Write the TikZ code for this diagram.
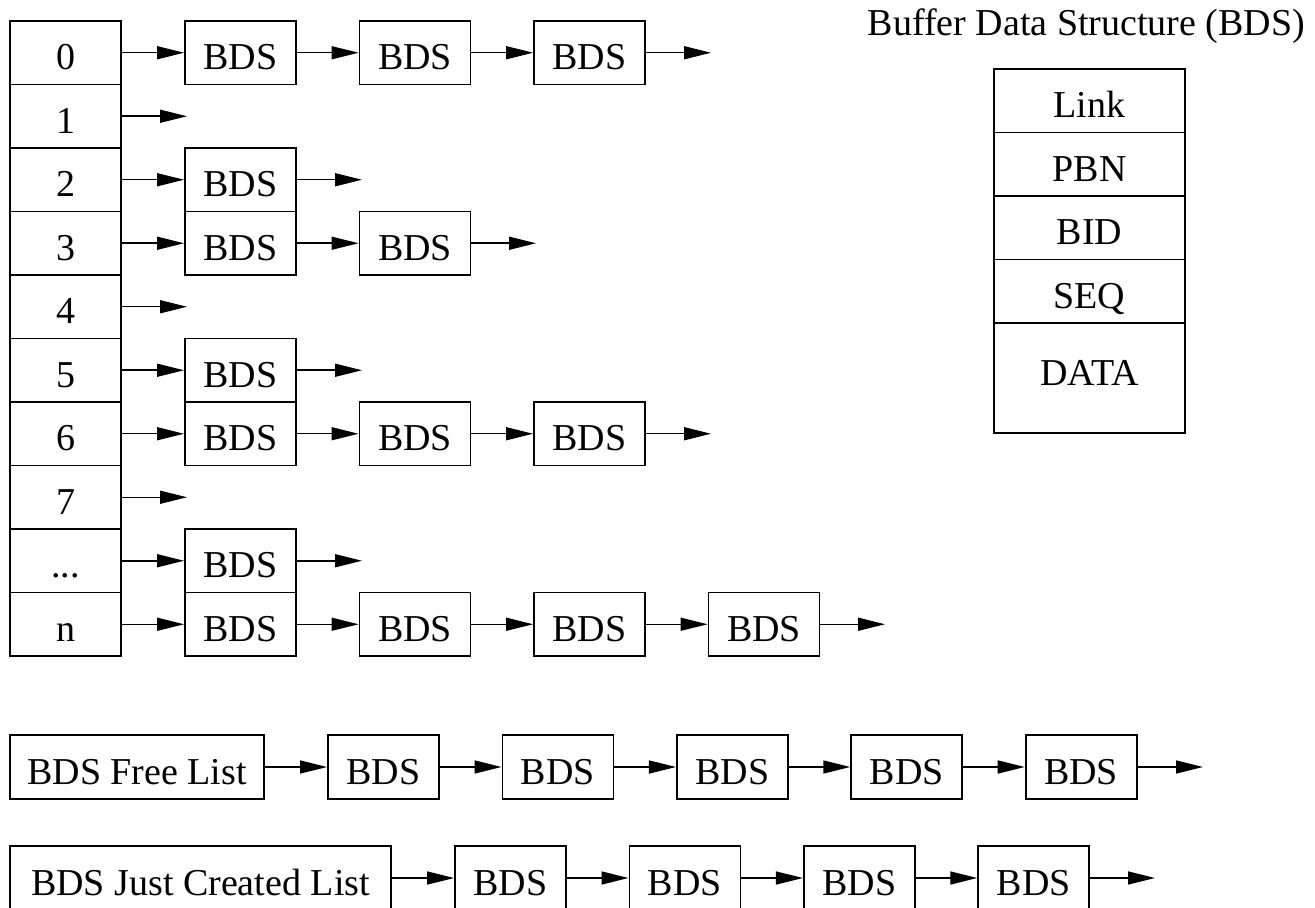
\documentclass[tikz,border=0pt]{standalone}
\usepackage{fontspec}
\setmainfont{Liberation Serif}
\usetikzlibrary{arrows.meta}

\begin{document}
\begin{tikzpicture}[x=0.5pt, y=-0.5pt, font=\fontsize{19}{23}\selectfont]

\tikzstyle{cell}=[rectangle, draw, line width=0.9pt, inner sep=0pt, minimum width=55.5pt, minimum height=31.75pt, text height=17pt, text depth=0pt]
\tikzstyle{bds}=[cell]
\tikzstyle{field}=[cell, minimum width=95.5pt]
\tikzstyle{arrow}=[-{Triangle[length=13.5pt,width=6.5pt]}, line width=0.75pt]

\useasboundingbox (0,0) rectangle (1315,908);

% hash table
\foreach \i in {0,...,7}
  \node (c\i) [cell] at (65.5, 52.75+63.5*\i) {\i};
\node (c8) [cell] at (65.5, 560.75) {...};
\node (c9) [cell] at (65.5, 624.25) {n};

% chains
\node (b01) [bds] at (240.5, 52.75) {BDS};
\node (b02) [bds] at (415, 52.75)   {BDS};
\node (b03) [bds] at (589.5, 52.75) {BDS};
\coordinate (e0) at (711, 52.75);

\coordinate (e1) at (187, 116.25);

\node (b21) [bds] at (240.5, 179.75) {BDS};
\coordinate (e2) at (362, 179.75);

\node (b31) [bds] at (240.5, 243.25) {BDS};
\node (b32) [bds] at (415, 243.25)   {BDS};
\coordinate (e3) at (536, 243.25);

\coordinate (e4) at (187, 306.75);

\node (b51) [bds] at (240.5, 370.25) {BDS};
\coordinate (e5) at (362, 370.25);

\node (b61) [bds] at (240.5, 433.75) {BDS};
\node (b62) [bds] at (415, 433.75)   {BDS};
\node (b63) [bds] at (589.5, 433.75) {BDS};
\coordinate (e6) at (711, 433.75);

\coordinate (e7) at (187, 497.25);

\node (b81) [bds] at (240.5, 560.75) {BDS};
\coordinate (e8) at (362, 560.75);

\node (b91) [bds] at (240.5, 624.25) {BDS};
\node (b92) [bds] at (415, 624.25)   {BDS};
\node (b93) [bds] at (589.5, 624.25) {BDS};
\node (b94) [bds] at (764, 624.25)   {BDS};
\coordinate (e9) at (885, 624.25);

\foreach \a/\b in {c0/b01, b01/b02, b02/b03, b03/e0,
                   c1/e1,
                   c2/b21, b21/e2,
                   c3/b31, b31/b32, b32/e3,
                   c4/e4,
                   c5/b51, b51/e5,
                   c6/b61, b61/b62, b62/b63, b63/e6,
                   c7/e7,
                   c8/b81, b81/e8,
                   c9/b91, b91/b92, b92/b93, b93/b94, b94/e9}
  \draw [arrow] (\a) -- (\b);

% layout of one BDS
\node (title) [anchor=base] at (1086.5, 36) {Buffer Data Structure (BDS)};
\node (f1) [field] at (1089.5, 100.75) {Link};
\node (f2) [field] at (1089.5, 164.25) {PBN};
\node (f3) [field] at (1089.5, 227.75) {BID};
\node (f4) [field] at (1089.5, 291.25) {SEQ};
\node (f5) [field, minimum height=55pt, text depth=9pt] at (1089.5, 378) {DATA};

% free list
\node (fl) [cell, minimum width=127pt] at (137, 767) {BDS Free List};
\node (fl1) [bds] at (383.5, 767) {BDS};
\node (fl2) [bds] at (557.9, 767) {BDS};
\node (fl3) [bds] at (732.3, 767) {BDS};
\node (fl4) [bds] at (906.7, 767) {BDS};
\node (fl5) [bds] at (1081.1, 767) {BDS};
\coordinate (ef) at (1203, 767);

\foreach \a/\b in {fl/fl1, fl1/fl2, fl2/fl3, fl3/fl4, fl4/fl5, fl5/ef}
  \draw [arrow] (\a) -- (\b);

% just created list
\node (jc) [cell, minimum width=190.5pt] at (200.5, 878) {BDS Just Created List};
\node (jc1) [bds] at (510.5, 878) {BDS};
\node (jc2) [bds] at (684.9, 878) {BDS};
\node (jc3) [bds] at (859.3, 878) {BDS};
\node (jc4) [bds] at (1033.7, 878) {BDS};
\coordinate (ej) at (1155, 878);

\foreach \a/\b in {jc/jc1, jc1/jc2, jc2/jc3, jc3/jc4, jc4/ej}
  \draw [arrow] (\a) -- (\b);

\end{tikzpicture}
\end{document}
